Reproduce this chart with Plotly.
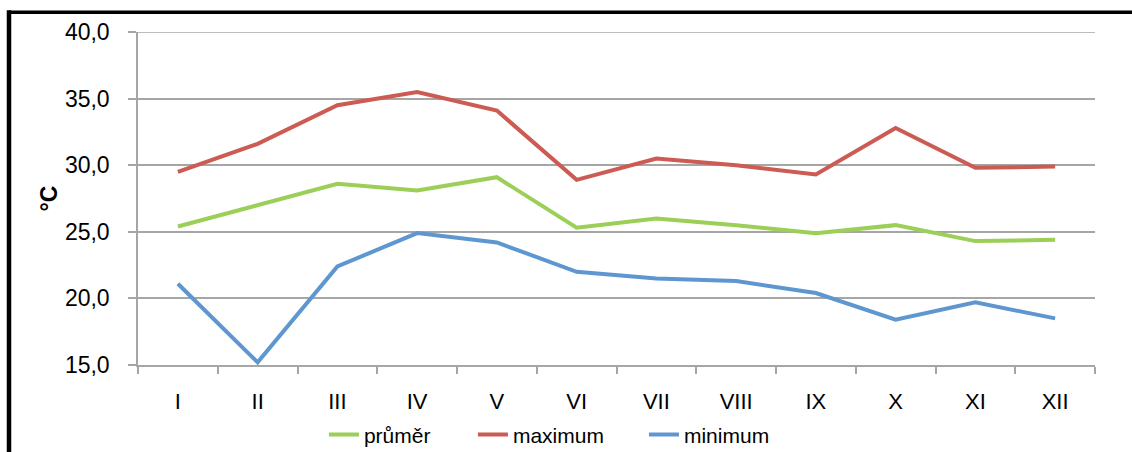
import plotly.graph_objects as go

# Monthly temperatures (°C)
months = ["I", "II", "III", "IV", "V", "VI", "VII", "VIII", "IX", "X", "XI", "XII"]
prumer = [25.4, 27.0, 28.6, 28.1, 29.1, 25.3, 26.0, 25.5, 24.9, 25.5, 24.3, 24.4]
maximum = [29.5, 31.6, 34.5, 35.5, 34.1, 28.9, 30.5, 30.0, 29.3, 32.8, 29.8, 29.9]
minimum = [21.1, 15.2, 22.4, 24.9, 24.2, 22.0, 21.5, 21.3, 20.4, 18.4, 19.7, 18.5]

y_ticks = [15, 20, 25, 30, 35, 40]

FONT = "Liberation Sans"
GRID = "#A6A6A6"

fig = go.Figure()
series = [
    ("průměr", prumer, "#9BCF57", "legend", 0.1943),
    ("maximum", maximum, "#CC5B53", "legend2", 0.3500),
    ("minimum", minimum, "#5E97CF", "legend3", 0.5287),
]
legend_layout = {}
for name, vals, color, leg, lx in series:
    fig.add_trace(go.Scatter(
        x=months, y=vals, name=name, mode="lines",
        line=dict(color=color, width=4), legend=leg,
    ))
    legend_layout[leg] = dict(
        orientation="h", x=lx, xanchor="left",
        yref="container", y=0.038, yanchor="middle",
        font=dict(family=FONT, size=21),
        bgcolor="rgba(0,0,0,0)",
    )

fig.update_layout(
    width=1132, height=452,
    margin=dict(l=138, r=37, t=32, b=87, autoexpand=False),
    paper_bgcolor="white", plot_bgcolor="white",
    separators=", ",
    font=dict(family=FONT, size=22, color="#000000"),
    showlegend=True,
    xaxis=dict(
        type="category", range=[-0.5, 11.5], showgrid=False,
        showline=True, linecolor=GRID, linewidth=1.5,
        ticks="outside", tickson="boundaries", ticklen=7,
        tickcolor=GRID, tickwidth=1.5,
        ticklabelstandoff=16,
        tickfont=dict(family=FONT, size=22),
    ),
    yaxis=dict(
        range=[15, 40], tickvals=y_ticks, tickformat=".1f",
        showgrid=True, gridcolor=GRID, gridwidth=1.5,
        showline=True, linecolor=GRID, linewidth=1.5,
        ticks="outside", ticklen=8, tickcolor=GRID, tickwidth=1.5,
        ticklabelstandoff=14,
        tickfont=dict(family=FONT, size=23),
        zeroline=False,
    ),
    **legend_layout,
)

# Top gridline at 40 drawn as a shape so it is visible at the range edge
fig.add_shape(type="line", xref="paper", yref="y", x0=0, x1=1, y0=40, y1=40,
              line=dict(color=GRID, width=1.5), layer="below")

# Axis title
fig.add_annotation(
    text="<b>°C</b>", xref="paper", yref="paper",
    x=-0.094, y=0.5, xanchor="center", yanchor="middle",
    textangle=-90, showarrow=False,
    font=dict(family=FONT, size=23),
)

# Black frame (left and top edges of the chart box)
fig.add_shape(type="line", xref="paper", yref="paper",
              x0=-0.1348, x1=1.2, y0=1.0595, y1=1.0595,
              line=dict(color="black", width=3.5))
fig.add_shape(type="line", xref="paper", yref="paper",
              x0=-0.1348, x1=-0.1348, y0=1.065, y1=-0.3,
              line=dict(color="black", width=4.5))

fig.write_html("out.html")
